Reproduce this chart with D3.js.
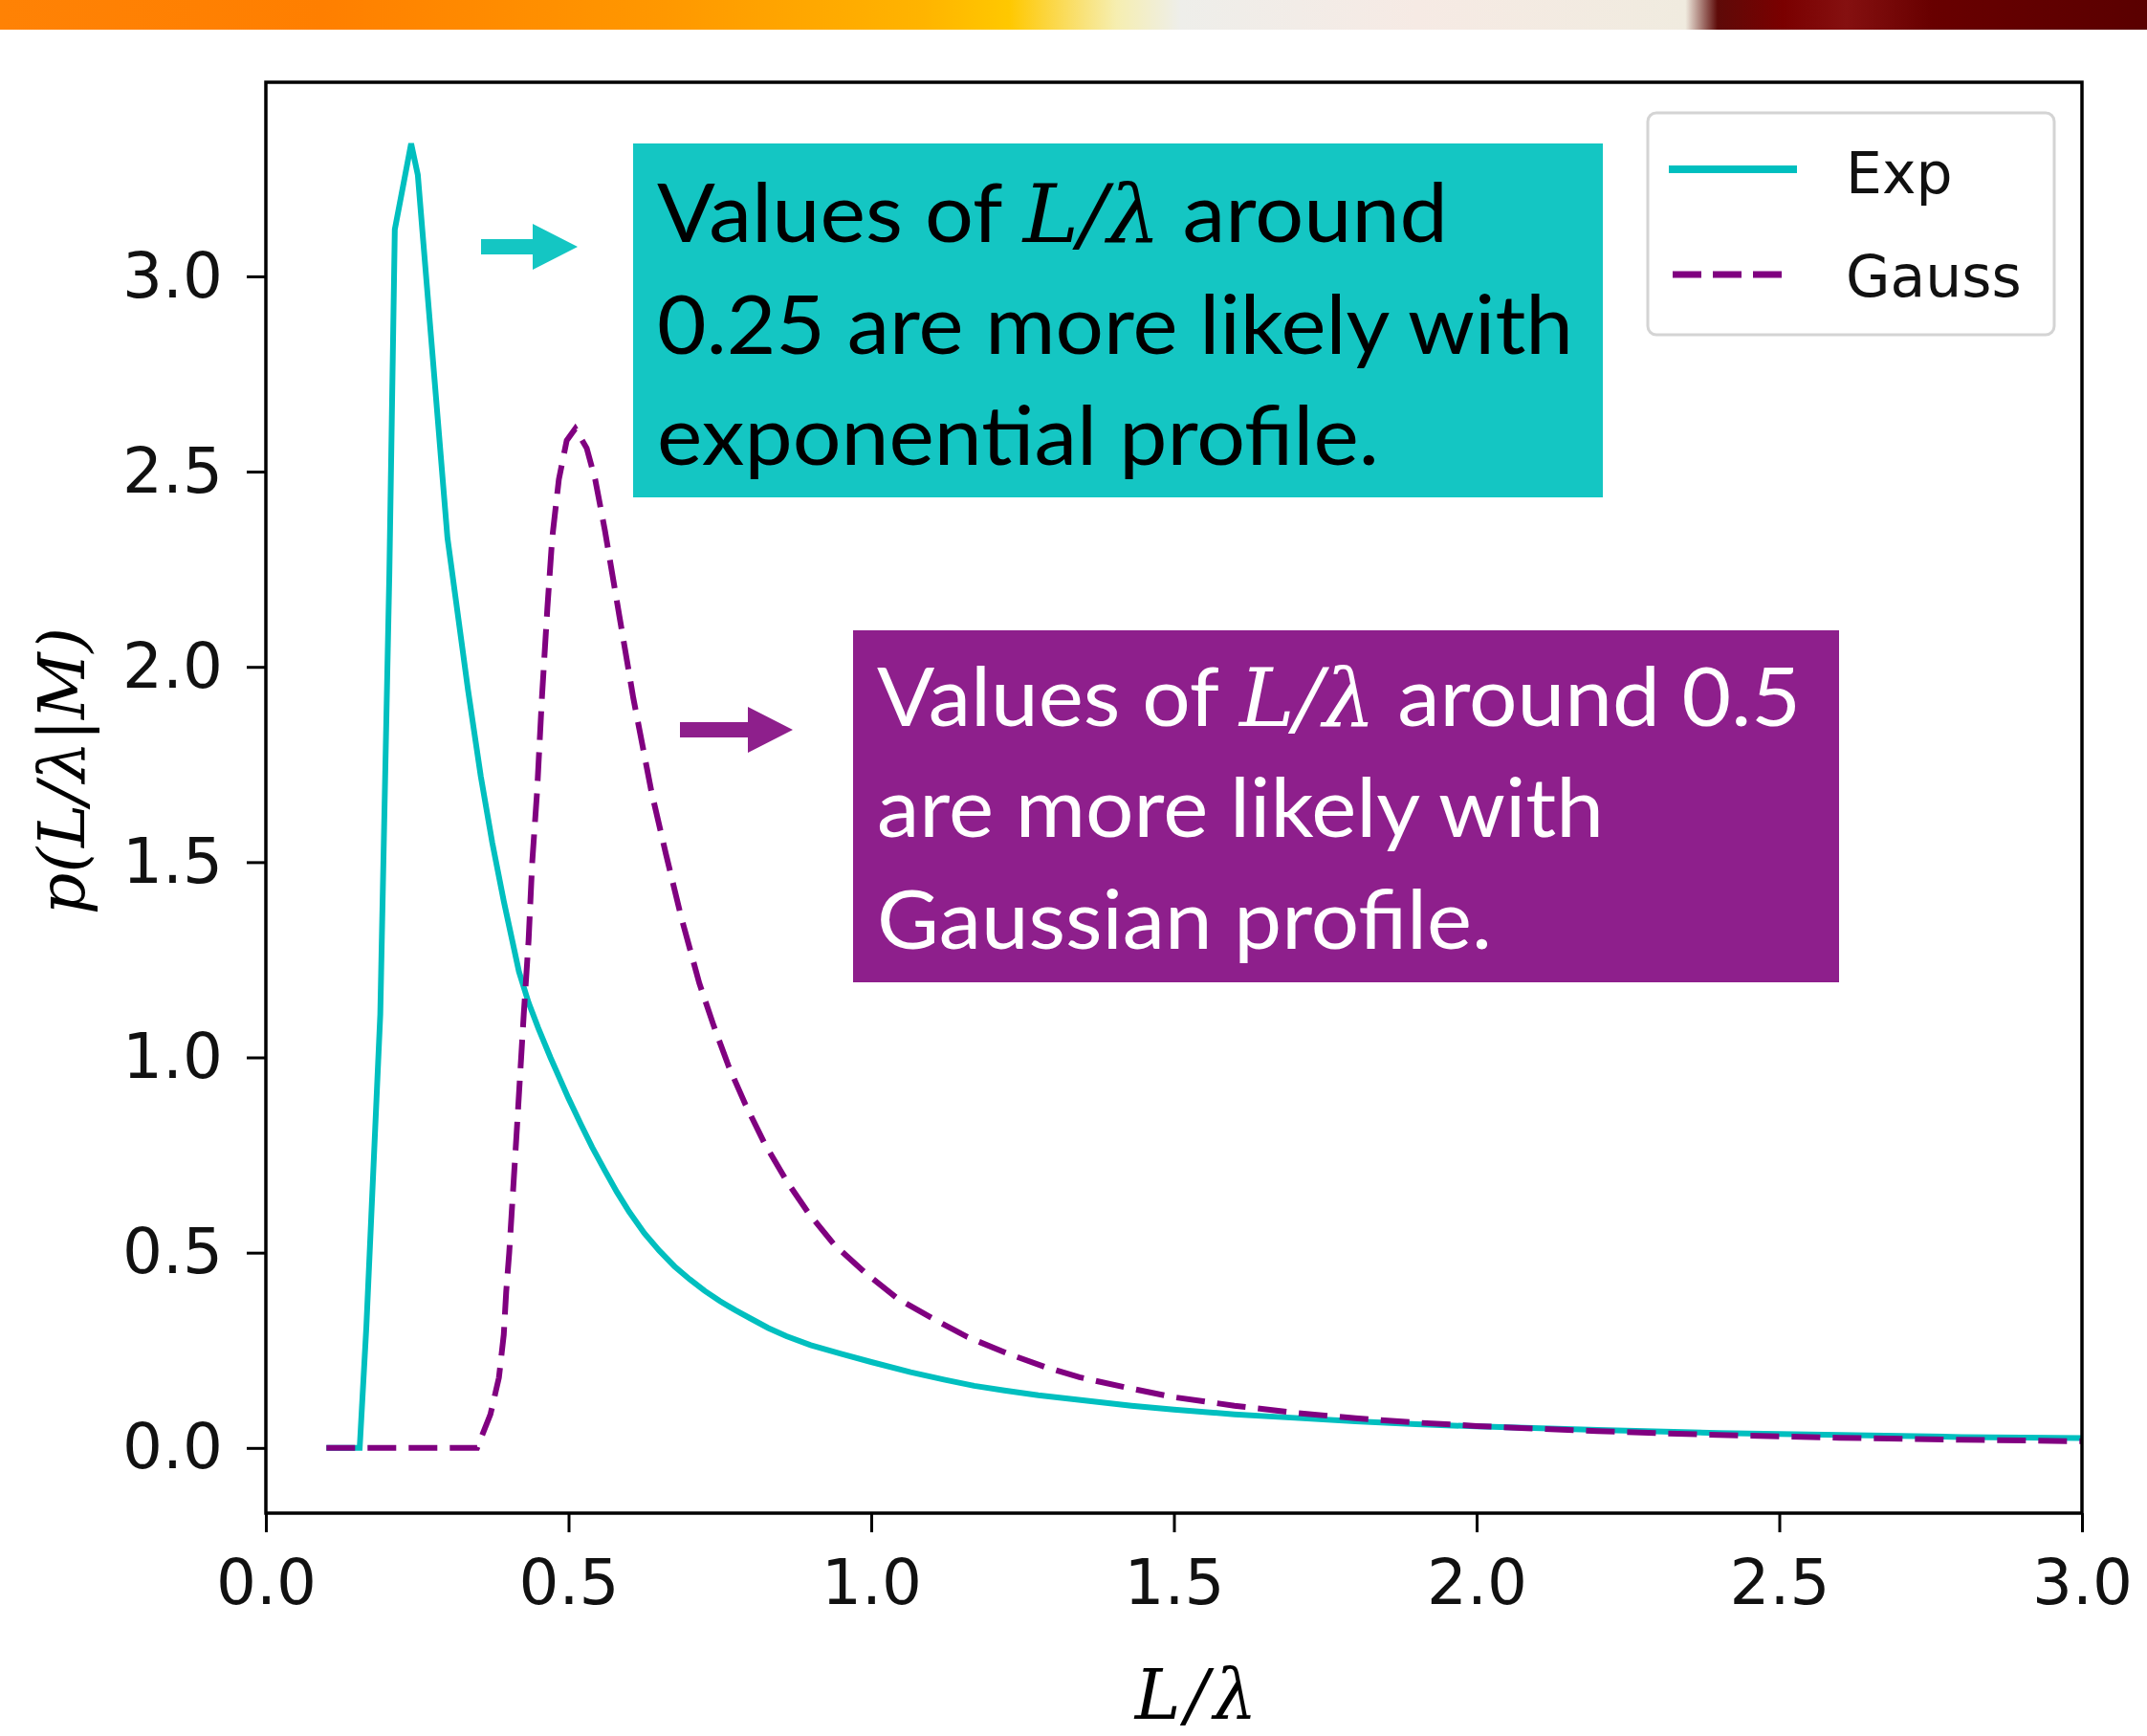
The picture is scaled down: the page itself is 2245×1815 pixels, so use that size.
<!DOCTYPE html>
<meta charset="utf-8">
<head>
  <title>p(L/λ|M) — Exp vs Gauss</title>
</head>
<style>
  body { margin: 0; background: #fff; }
  .axis text { font-family: "DejaVu Sans", sans-serif; font-size: 66px; fill: #111; }
  .axis line { stroke: #000; stroke-width: 3px; }
  .axis path { display: none; }
  .legend text { font-family: "DejaVu Sans", sans-serif; font-size: 60px; fill: #111; }
  .note { font-family: Lato, "Open Sans", sans-serif; font-size: 86px; }
  .math { font-family: "DejaVu Serif", serif; font-style: italic; }
</style>
<body>
<script src="https://d3js.org/d3.v7.min.js"></script>
<script>
// ---- data ----
var expX = [0.10, 0.155, 0.166, 0.189, 0.204, 0.213, 0.240, 0.251, 0.300, 0.334, 0.355, 0.374, 0.393, 0.418,
            0.434, 0.45, 0.47, 0.50, 0.52, 0.539, 0.56, 0.58, 0.60, 0.625, 0.65, 0.675, 0.70, 0.725, 0.75,
            0.775, 0.80, 0.83, 0.86, 0.90, 0.95, 1.0, 1.065, 1.12, 1.17, 1.22, 1.276, 1.36, 1.43, 1.5,
            1.6, 1.7, 1.8, 1.9, 2.0, 2.2, 2.4, 2.6, 2.8, 3.0];
var expY = [0.0, 0.0, 0.31, 1.11, 2.24, 3.12, 3.34, 3.26, 2.33, 1.94, 1.72, 1.55, 1.40, 1.22,
            1.14, 1.075, 1.0, 0.895, 0.83, 0.77, 0.71, 0.655, 0.605, 0.55, 0.505, 0.465, 0.432, 0.402, 0.376,
            0.353, 0.332, 0.307, 0.286, 0.263, 0.241, 0.22, 0.194, 0.175, 0.159, 0.147, 0.135, 0.12, 0.108, 0.098,
            0.086, 0.077, 0.068, 0.061, 0.055, 0.046, 0.038, 0.033, 0.028, 0.025];

var gaussX = [0.10, 0.349, 0.371, 0.385, 0.393, 0.397, 0.402, 0.414, 0.426, 0.434, 0.44, 0.448, 0.456, 0.465,
              0.473, 0.484, 0.497, 0.511, 0.53, 0.544, 0.56, 0.584, 0.607, 0.637, 0.661, 0.686, 0.716, 0.74,
              0.765, 0.792, 0.823, 0.86, 0.897, 0.939, 0.992, 1.044, 1.102, 1.159, 1.223, 1.286, 1.344,
              1.42, 1.5, 1.6, 1.7, 1.8, 1.9, 2.0, 2.2, 2.4, 2.6, 2.8, 3.0];
var gaussY = [0.0, 0.0, 0.086, 0.18, 0.29, 0.40, 0.50, 0.80, 1.11, 1.30, 1.50, 1.68, 1.92, 2.15,
              2.33, 2.48, 2.58, 2.61, 2.56, 2.48, 2.35, 2.13, 1.92, 1.68, 1.52, 1.36, 1.19, 1.08,
              0.975, 0.88, 0.782, 0.684, 0.60, 0.52, 0.446, 0.382, 0.331, 0.284, 0.243, 0.208, 0.181,
              0.155, 0.13, 0.108, 0.09, 0.076, 0.065, 0.056, 0.043, 0.033, 0.026, 0.021, 0.017];

var xTicks = [0.0, 0.5, 1.0, 1.5, 2.0, 2.5, 3.0];
var yTicks = [0.0, 0.5, 1.0, 1.5, 2.0, 2.5, 3.0];
var seriesNames = ["Exp", "Gauss"];

var W = 2245, H = 1815;
var plot = {left: 278, right: 2177, top: 86, bottom: 1582};

var svg = d3.select("body").append("svg")
    .attr("width", W)
    .attr("height", H);

// top banner strip
var defs = svg.append("defs");
var grad = defs.append("linearGradient").attr("id", "banner").attr("x1", 0).attr("x2", 1).attr("y1", 0).attr("y2", 0);
[[0, "#ff8205"], [0.15, "#ff7f00"], [0.31, "#ff9800"], [0.43, "#ffb400"], [0.47, "#ffc800"],
 [0.52, "#f6eeb0"], [0.55, "#eeeeea"], [0.66, "#f6eae4"], [0.785, "#f0ebdf"], [0.80, "#5e0a08"],
 [0.83, "#7a0000"], [0.86, "#851010"], [0.9, "#680000"], [1, "#5a0000"]].forEach(function(s) {
  grad.append("stop").attr("offset", s[0]).attr("stop-color", s[1]);
});
svg.append("rect").attr("x", 0).attr("y", 0).attr("width", W).attr("height", 31).attr("fill", "url(#banner)");

defs.append("clipPath").attr("id", "plotclip").append("rect")
    .attr("x", plot.left).attr("y", plot.top)
    .attr("width", plot.right - plot.left).attr("height", plot.bottom - plot.top);

var xScale = d3.scaleLinear().domain([0, 3.0]).range([plot.left, plot.right]);
var yScale = d3.scaleLinear().domain([-0.167, 3.497]).range([plot.bottom, plot.top]);

// axes
svg.append("g")
    .attr("class", "axis")
    .attr("transform", "translate(0," + plot.bottom + ")")
    .call(d3.axisBottom(xScale).tickValues(xTicks).tickFormat(d3.format(".1f")).tickSize(20).tickPadding(28));

svg.append("g")
    .attr("class", "axis")
    .attr("transform", "translate(" + plot.left + ",0)")
    .call(d3.axisLeft(yScale).tickValues(yTicks).tickFormat(d3.format(".1f")).tickSize(20).tickPadding(25));

// curves
var line = d3.line()
    .x(function(d) { return xScale(d[0]); })
    .y(function(d) { return yScale(d[1]); });

var expPts = expX.map(function(x, i) { return [x, expY[i]]; });
var gaussPts = gaussX.map(function(x, i) { return [x, gaussY[i]]; });

var curves = svg.append("g").attr("clip-path", "url(#plotclip)");
curves.append("path").datum(expPts)
    .attr("d", line)
    .attr("fill", "none")
    .attr("stroke", "#00bfbf")
    .attr("stroke-width", 6)
    .attr("stroke-linejoin", "miter");
curves.append("path").datum(gaussPts)
    .attr("d", line)
    .attr("fill", "none")
    .attr("stroke", "#800080")
    .attr("stroke-width", 6)
    .attr("stroke-dasharray", "30,13");

// frame (all four spines)
svg.append("rect")
    .attr("x", plot.left).attr("y", plot.top)
    .attr("width", plot.right - plot.left).attr("height", plot.bottom - plot.top)
    .attr("fill", "none").attr("stroke", "#000").attr("stroke-width", 3.5);

// axis labels
svg.append("text")
    .attr("transform", "translate(88,806) rotate(-90)")
    .attr("text-anchor", "middle")
    .attr("class", "math")
    .style("font-size", "68px")
    .text("p(L/λ|M)");

svg.append("text")
    .attr("x", 1253).attr("y", 1797)
    .attr("text-anchor", "middle")
    .attr("class", "math")
    .style("font-size", "72px")
    .style("letter-spacing", "5px")
    .text("L/λ");

// legend
var legend = svg.append("g").attr("class", "legend");
legend.append("rect")
    .attr("x", 1723).attr("y", 118).attr("width", 425).attr("height", 232)
    .attr("rx", 9).attr("fill", "#fff").attr("stroke", "#d4d4d4").attr("stroke-width", 3);
legend.append("line").attr("x1", 1745).attr("x2", 1879).attr("y1", 177).attr("y2", 177)
    .attr("stroke", "#00bfbf").attr("stroke-width", 8);
legend.append("line").attr("x1", 1749).attr("x2", 1865).attr("y1", 287).attr("y2", 287)
    .attr("stroke", "#800080").attr("stroke-width", 7).attr("stroke-dasharray", "30,12");
legend.append("text").attr("x", 1930).attr("y", 202).text(seriesNames[0]);
legend.append("text").attr("x", 1930).attr("y", 310).text(seriesNames[1]);

// annotation boxes
function note(box, color, textColor, lines, widths, baselines) {
  var g = svg.append("g");
  g.append("rect").attr("x", box[0]).attr("y", box[1]).attr("width", box[2]).attr("height", box[3]).attr("fill", color);
  lines.forEach(function(parts, i) {
    var t = g.append("text").attr("class", "note")
        .attr("x", box[0] + 25).attr("y", baselines[i])
        .attr("fill", textColor)
        .attr("textLength", widths[i])
        .attr("lengthAdjust", "spacingAndGlyphs");
    parts.forEach(function(p) {
      var ts = t.append("tspan").text(p[0]);
      if (p[1]) ts.attr("class", "math").style("font-size", "84px");
    });
  });
  return g;
}

note([662, 150, 1014, 370], "#14c6c3", "#000",
     [[["Values of "], ["L/λ", true], [" around"]],
      [["0.25 are more likely with"]],
      [["exponential profile."]]],
     [827, 958, 755], [253, 370, 486]);

note([892, 659, 1031, 368], "#8e1f8c", "#fff",
     [[["Values of "], ["L/λ", true], [" around 0.5"]],
      [["are more likely with"]],
      [["Gaussian profile."]]],
     [966, 760, 643], [759, 875, 992]);

// arrows
function arrow(x0, x1, x2, yc, color) {
  svg.append("path")
      .attr("d", "M" + x0 + "," + (yc - 8) + "H" + x1 + "V" + (yc - 24) + "L" + x2 + "," + yc +
                 "L" + x1 + "," + (yc + 24) + "V" + (yc + 8) + "H" + x0 + "Z")
      .attr("fill", color);
}
arrow(503, 557, 604, 258, "#14c6c3");
arrow(711, 782, 829, 763, "#8e1f8c");
</script>
</body>
